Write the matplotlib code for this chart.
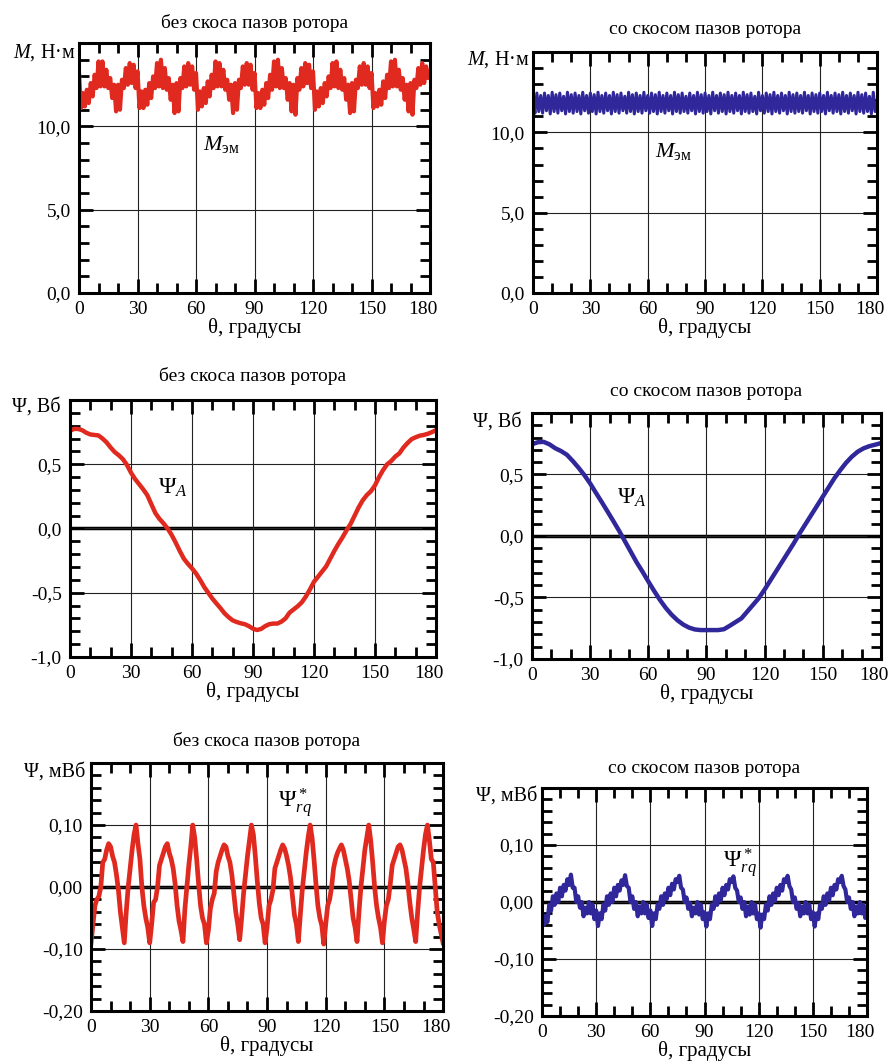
import numpy as np
import matplotlib
matplotlib.use("Agg")
import matplotlib.pyplot as plt
import matplotlib.transforms as mtransforms
from matplotlib.ticker import MultipleLocator

plt.rcParams['font.family'] = ['Liberation Serif', 'DejaVu Serif']
plt.rcParams['mathtext.fontset'] = 'custom'
plt.rcParams['mathtext.rm'] = 'Liberation Serif'
plt.rcParams['mathtext.it'] = 'Liberation Serif:italic'
plt.rcParams['mathtext.bf'] = 'Liberation Serif:bold'

RED = '#e12a1f'
BLUE = '#30289a'

# Угол поворота ротора, градусы
theta_1 = np.arange(0, 181, 1)
theta_2 = np.arange(0, 181, 2)
theta_3 = np.arange(0, 181, 3)

# Электромагнитный момент без скоса пазов, Н·м (шаг 1 град)
m_noskew = [
    13.2, 11.1, 12.0, 11.2, 12.2, 11.4, 12.6, 11.8, 13.1, 12.3,
    13.9, 12.4, 13.9, 12.4, 13.4, 12.3, 12.9, 11.7, 12.5, 10.9,
    12.5, 11.0, 12.8, 12.3, 13.5, 12.5, 13.8, 12.6, 13.7, 12.3,
    13.3, 11.1, 12.1, 11.1, 12.2, 11.3, 12.6, 11.7, 13.0, 12.3,
    13.8, 12.4, 14.0, 12.3, 13.5, 12.2, 12.9, 11.6, 12.5, 10.8,
    12.6, 10.9, 12.9, 12.3, 13.6, 12.4, 13.8, 12.5, 13.6, 12.2,
    13.2, 11.0, 12.1, 11.2, 12.3, 11.4, 12.7, 11.8, 13.1, 12.3,
    13.9, 12.4, 13.8, 12.4, 13.4, 12.2, 12.8, 11.6, 12.5, 10.8,
    12.6, 11.0, 12.8, 12.3, 13.6, 12.5, 13.8, 12.5, 13.7, 12.2,
    13.2, 11.1, 12.0, 11.1, 12.2, 11.3, 12.6, 11.7, 13.1, 12.2,
    13.9, 12.4, 14.0, 12.3, 13.5, 12.3, 12.9, 11.6, 12.6, 10.9,
    12.5, 10.7, 12.9, 12.2, 13.5, 12.4, 13.8, 12.6, 13.7, 12.3,
    13.3, 11.0, 12.1, 11.2, 12.3, 11.4, 12.6, 11.8, 13.0, 12.3,
    13.8, 12.4, 13.9, 12.3, 13.4, 12.2, 12.9, 11.6, 12.5, 10.8,
    12.6, 10.9, 12.8, 12.3, 13.6, 12.5, 13.8, 12.5, 13.6, 12.3,
    13.2, 11.1, 12.0, 11.2, 12.2, 11.3, 12.7, 11.7, 13.1, 12.3,
    13.9, 12.4, 14.0, 12.4, 13.4, 12.2, 12.9, 11.6, 12.5, 10.9,
    12.6, 10.7, 12.8, 12.3, 13.5, 12.5, 13.8, 12.6, 13.6, 12.9,
    13.3,
]

# Электромагнитный момент со скосом пазов, Н·м (шаг 1 град)
m_skew = [
    11.9, 11.2, 12.45, 11.3, 12.3, 11.2, 12.45, 11.35, 12.3, 11.15,
    12.5, 11.3, 12.35, 11.2, 12.45, 11.35, 12.25, 11.15, 12.5, 11.3,
    12.35, 11.2, 12.45, 11.3, 12.3, 11.15, 12.5, 11.35, 12.3, 11.2,
    12.45, 11.3, 12.35, 11.15, 12.5, 11.3, 12.3, 11.2, 12.45, 11.35,
    12.3, 11.15, 12.5, 11.3, 12.35, 11.2, 12.45, 11.35, 12.25, 11.2,
    12.5, 11.3, 12.35, 11.15, 12.45, 11.3, 12.3, 11.2, 12.5, 11.35,
    12.3, 11.2, 12.45, 11.3, 12.35, 11.15, 12.5, 11.3, 12.3, 11.2,
    12.45, 11.35, 12.3, 11.15, 12.5, 11.3, 12.35, 11.2, 12.45, 11.3,
    12.25, 11.2, 12.45, 11.35, 12.3, 11.15, 12.5, 11.3, 12.35, 11.2,
    12.45, 11.3, 12.3, 11.15, 12.5, 11.35, 12.3, 11.2, 12.45, 11.3,
    12.35, 11.15, 12.5, 11.3, 12.3, 11.2, 12.45, 11.35, 12.3, 11.15,
    12.5, 11.3, 12.35, 11.2, 12.45, 11.3, 12.25, 11.15, 12.5, 11.35,
    12.3, 11.2, 12.45, 11.3, 12.35, 11.15, 12.5, 11.3, 12.3, 11.2,
    12.45, 11.35, 12.3, 11.15, 12.5, 11.3, 12.35, 11.2, 12.45, 11.3,
    12.3, 11.2, 12.5, 11.35, 12.3, 11.15, 12.45, 11.3, 12.35, 11.2,
    12.45, 11.3, 12.3, 11.15, 12.5, 11.35, 12.3, 11.2, 12.45, 11.3,
    12.35, 11.15, 12.5, 11.3, 12.3, 11.2, 12.45, 11.35, 12.3, 11.15,
    12.5, 11.3, 12.35, 11.2, 12.45, 11.3, 12.25, 11.15, 12.5, 11.3,
    11.8,
]

# Потокосцепление фазы A без скоса, Вб (шаг 2 град)
psi_a_noskew = [
    0.76, 0.775, 0.775, 0.765, 0.745, 0.732, 0.728, 0.724, 0.70, 0.67,
    0.63, 0.595, 0.57, 0.54, 0.495, 0.435, 0.385, 0.345, 0.305, 0.26,
    0.19, 0.12, 0.075, 0.04, 0.0, -0.05, -0.11, -0.175, -0.235, -0.275,
    -0.31, -0.35, -0.40, -0.455, -0.50, -0.545, -0.583, -0.62, -0.66, -0.69,
    -0.715, -0.728, -0.738, -0.745, -0.76, -0.78, -0.79, -0.782, -0.76, -0.745,
    -0.74, -0.74, -0.725, -0.70, -0.655, -0.63, -0.605, -0.575, -0.53, -0.475,
    -0.415, -0.375, -0.335, -0.295, -0.235, -0.175, -0.12, -0.07, -0.015, 0.035,
    0.10, 0.165, 0.22, 0.26, 0.29, 0.335, 0.40, 0.455, 0.50, 0.525,
    0.56, 0.585, 0.63, 0.665, 0.695, 0.71, 0.722, 0.728, 0.737, 0.75,
    0.765,
]

# Потокосцепление фазы A со скосом, Вб (шаг 3 град)
psi_a_skew = [
    0.745, 0.762, 0.765, 0.745, 0.713, 0.69, 0.66, 0.61, 0.555, 0.495,
    0.427, 0.35, 0.275, 0.198, 0.12, 0.04, -0.045, -0.13, -0.215, -0.29,
    -0.37, -0.447, -0.52, -0.585, -0.64, -0.685, -0.72, -0.745, -0.76, -0.765,
    -0.765, -0.765, -0.765, -0.758, -0.73, -0.70, -0.67, -0.615, -0.56, -0.505,
    -0.435, -0.36, -0.285, -0.21, -0.135, -0.06, 0.02, 0.095, 0.17, 0.245,
    0.32, 0.395, 0.47, 0.535, 0.595, 0.645, 0.685, 0.712, 0.73, 0.742,
    0.755,
]

# Потокосцепление ротора по оси q без скоса, мВб (шаг 1 град)
psi_rq_noskew = [
    -0.09, -0.06, -0.03, -0.02, -0.015, 0.0, 0.04, 0.045, 0.06, 0.07,
    0.065, 0.05, 0.04, 0.02, -0.005, -0.04, -0.065, -0.09, -0.04, 0.0,
    0.03, 0.06, 0.085, 0.10, 0.07, 0.045, 0.0, -0.03, -0.05, -0.065,
    -0.09, -0.06, -0.025, -0.02, 0.0, 0.035, 0.045, 0.055, 0.065, 0.07,
    0.055, 0.045, 0.03, 0.005, -0.03, -0.055, -0.07, -0.088, -0.035, 0.0,
    0.035, 0.065, 0.10, 0.08, 0.045, 0.005, -0.03, -0.05, -0.06, -0.09,
    -0.07, -0.035, -0.02, -0.01, 0.025, 0.04, 0.05, 0.06, 0.068, 0.065,
    0.05, 0.04, 0.02, -0.01, -0.04, -0.06, -0.085, -0.05, -0.01, 0.02,
    0.05, 0.075, 0.10, 0.085, 0.05, 0.01, -0.025, -0.05, -0.06, -0.09,
    -0.065, -0.03, -0.02, -0.005, 0.03, 0.04, 0.05, 0.06, 0.068, 0.062,
    0.05, 0.035, 0.015, -0.015, -0.045, -0.06, -0.088, -0.045, -0.005, 0.025,
    0.055, 0.08, 0.10, 0.08, 0.045, 0.005, -0.03, -0.05, -0.062, -0.092,
    -0.06, -0.03, -0.02, 0.0, 0.03, 0.045, 0.055, 0.062, 0.068, 0.06,
    0.045, 0.03, 0.01, -0.02, -0.05, -0.065, -0.088, -0.04, 0.0, 0.03,
    0.06, 0.08, 0.10, 0.075, 0.04, 0.0, -0.03, -0.05, -0.065, -0.09,
    -0.055, -0.03, -0.02, 0.005, 0.035, 0.045, 0.055, 0.065, 0.068, 0.06,
    0.045, 0.03, 0.005, -0.025, -0.05, -0.068, -0.088, -0.04, 0.0, 0.03,
    0.06, 0.085, 0.10, 0.075, 0.045, 0.04, 0.0, -0.04, -0.06, -0.075,
    -0.09,
]

# Потокосцепление ротора по оси q со скосом, мВб (шаг 1 град)
psi_rq_skew = [
    -0.02, -0.04, -0.025, -0.035, -0.005, -0.015, 0.01, -0.005, 0.015, 0.0,
    0.025, 0.01, 0.03, 0.02, 0.04, 0.03, 0.048, 0.025, 0.025, 0.0,
    0.01, -0.01, 0.0, -0.025, -0.01, -0.02, 0.0, -0.02, -0.005, -0.03,
    -0.015, -0.042, -0.02, -0.03, -0.005, -0.015, 0.01, -0.005, 0.015, 0.0,
    0.025, 0.01, 0.03, 0.02, 0.038, 0.03, 0.047, 0.028, 0.025, 0.0,
    0.01, -0.012, 0.0, -0.025, -0.008, -0.02, 0.0, -0.02, -0.005, -0.028,
    -0.015, -0.042, -0.02, -0.03, -0.005, -0.012, 0.01, -0.005, 0.015, 0.005,
    0.025, 0.012, 0.032, 0.022, 0.04, 0.035, 0.046, 0.025, 0.022, 0.0,
    0.008, -0.012, -0.002, -0.025, -0.01, -0.02, 0.0, -0.022, -0.005, -0.03,
    -0.018, -0.043, -0.02, -0.03, -0.005, -0.012, 0.01, -0.005, 0.015, 0.003,
    0.025, 0.012, 0.03, 0.022, 0.04, 0.035, 0.045, 0.025, 0.02, 0.0,
    0.008, -0.012, 0.0, -0.025, -0.008, -0.022, 0.0, -0.02, -0.005, -0.03,
    -0.02, -0.045, -0.022, -0.03, -0.005, -0.015, 0.01, -0.005, 0.015, 0.002,
    0.025, 0.012, 0.03, 0.02, 0.04, 0.035, 0.046, 0.028, 0.022, 0.0,
    0.008, -0.012, -0.002, -0.025, -0.008, -0.02, 0.0, -0.02, -0.005, -0.03,
    -0.018, -0.043, -0.02, -0.03, -0.005, -0.012, 0.01, -0.005, 0.015, 0.003,
    0.025, 0.012, 0.03, 0.022, 0.04, 0.035, 0.046, 0.028, 0.022, 0.0,
    0.008, -0.012, 0.0, -0.025, -0.008, -0.02, 0.0, -0.02, -0.005, -0.028,
    -0.02,
]

x_ticks = [0, 30, 60, 90, 120, 150, 180]
m_ticks = [0, 5, 10]
m_labels = ['0,0', '5,0', '10,0']
psi_ticks = [-1.0, -0.5, 0.0, 0.5]
psi_labels = ['-1,0', '-0,5', '0,0', '0,5']
rq_ticks = [-0.2, -0.1, 0.0, 0.1]
rq_labels = ['-0,20', '-0,10', '0,00', '0,10']

title_noskew = 'без скоса пазов ротора'
title_skew = 'со скосом пазов ротора'

fig = plt.figure(figsize=(8.89, 10.61), dpi=100)

def setup(rect, ylim, yticks, ylabels, yminor, ylabel, lab_xy, title, tpad, zero=False):
    ax = fig.add_axes(rect)
    ax.set_xlim(0, 180)
    ax.set_ylim(*ylim)
    ax.set_xticks(x_ticks)
    ax.xaxis.set_minor_locator(MultipleLocator(10))
    ax.set_yticks(yticks, ylabels)
    ax.yaxis.set_minor_locator(MultipleLocator(yminor))
    ax.tick_params(which='both', direction='in', top=True, right=True,
                   width=2, labelsize=14, color='black')
    ax.tick_params(which='major', length=10)
    ax.tick_params(which='minor', length=7)
    ax.tick_params(axis='x', pad=6)
    ax.tick_params(axis='y', pad=6)
    ax.grid(True, which='major', color='#222222', lw=0.8)
    if zero:
        ax.axhline(0, color='black', lw=2.5, zorder=1.5)
    for s in ax.spines.values():
        s.set_linewidth(2.2)
    # подпись 180 чуть левее, чтобы не вылезала за край
    lab180 = ax.get_xticklabels()[-1]
    lab180.set_transform(lab180.get_transform() +
                         mtransforms.ScaledTranslation(-7 / 100, 0, fig.dpi_scale_trans))
    ax.set_xlabel('θ, градусы', fontsize=15, labelpad=0)
    ax.set_title(title, fontsize=14, pad=tpad)
    ax.text(lab_xy[0], lab_xy[1], ylabel, transform=ax.transAxes,
            ha='right', va='center', fontsize=14.5)
    return ax

# Момент
ax1 = setup([0.0889, 0.7238, 0.3948, 0.2356], (0, 15), m_ticks, m_labels, 1,
            '$M$, Н·м', (-0.011, 0.964), title_noskew, 11)
ax1.plot(theta_1, m_noskew, color=RED, lw=3.0)
ax1.text(63.5, 8.6, r'$M_{\mathrm{эм}}$', fontsize=16, va='baseline')

ax2 = setup([0.5996, 0.7238, 0.3870, 0.2271], (0, 15), m_ticks, m_labels, 1,
            '$M$, Н·м', (-0.009, 0.971), title_skew, 13)
ax2.plot(theta_1, m_skew, color=BLUE, lw=2.2)
ax2.text(63.8, 8.47, r'$M_{\mathrm{эм}}$', fontsize=16, va='baseline')

# Потокосцепление фазы A
ax3 = setup([0.0787, 0.3808, 0.4117, 0.2422], (-1, 1), psi_ticks, psi_labels, 0.1,
            'Ψ, Вб', (-0.027, 0.973), title_noskew, 13.5, zero=True)
ax3.plot(theta_2, psi_a_noskew, color=RED, lw=3.2)
ax3.text(43.3, 0.27, r'$\Psi_A$', fontsize=17, va='baseline')

ax4 = setup([0.5984, 0.3789, 0.3926, 0.2319], (-1, 1), psi_ticks, psi_labels, 0.1,
            'Ψ, Вб', (-0.029, 0.963), title_skew, 12.5, zero=True)
ax4.plot(theta_3, psi_a_skew, color=BLUE, lw=3.2)
ax4.text(43.8, 0.266, r'$\Psi_A$', fontsize=17, va='baseline')

# Потокосцепление ротора по оси q
ax5 = setup([0.1024, 0.0471, 0.3960, 0.2337], (-0.2, 0.2), rq_ticks, rq_labels, 0.02,
            'Ψ, мВб', (-0.017, 0.964), title_noskew, 12.5, zero=True)
ax5.plot(theta_1, psi_rq_noskew, color=RED, lw=3.4)
ax5.text(95.6, 0.127, r'$\Psi^*_{rq}$', fontsize=17, va='baseline')

ax6 = setup([0.6097, 0.0424, 0.3656, 0.2149], (-0.2, 0.2), rq_ticks, rq_labels, 0.02,
            'Ψ, мВб', (-0.015, 0.965), title_skew, 11, zero=True)
ax6.plot(theta_1, psi_rq_skew, color=BLUE, lw=3)
ax6.text(100.2, 0.059, r'$\Psi^*_{rq}$', fontsize=17, va='baseline')

fig.savefig('out.png', dpi=100)
